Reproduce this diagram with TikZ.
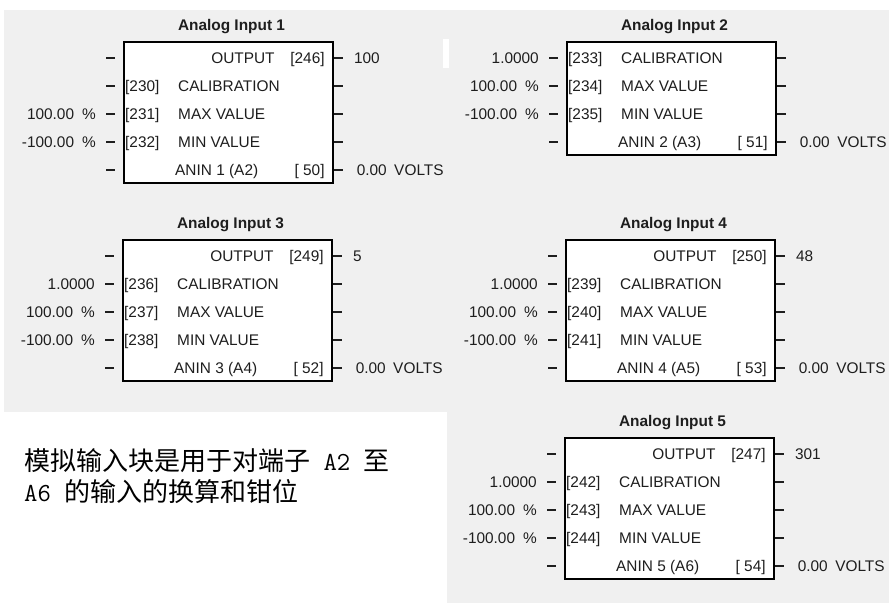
\documentclass[tikz,border=0pt]{standalone}
\usepackage{fontspec}
\setmainfont{Liberation Sans}
\newfontfamily\cjkfont{Noto Sans CJK SC}
\definecolor{bggray}{HTML}{F0F0F0}
\definecolor{txt}{HTML}{1E1E1E}
\tikzset{
  blockbox/.style={draw=black, line width=1.8pt, fill=white, minimum width=209pt, inner sep=0pt, anchor=north west},
  lbl/.style={inner sep=0pt, text=txt, font=\fontsize{15.4}{18}\selectfont},
  ttl/.style={inner sep=0pt, text=txt, font=\fontsize{15.4}{18}\selectfont\bfseries},
  tick/.style={line width=1.6pt, draw=txt},
  note/.style={inner sep=0pt, text=black, anchor=base west},
}
\newcommand\pct[1]{#1\hspace{8pt}\%}
\newcommand\volts{0.00\hspace{7.5pt}VOLTS}
\newcommand\latm[1]{{\ttfamily\fontsize{26}{30}\selectfont #1}}
% block: name, x, y, height, title
\newcommand\ablock[5]{%
  \node[blockbox, minimum height=#4pt] (#1) at (#2,#3) {};
  \node[ttl, anchor=base] (#1title) at ([shift={(108.5,-10.5)}]#1.north west) {#5};
}
% left dash + right tick for row i
\newcommand\rowticks[2]{%
  \coordinate (#1la#2) at ([shift={(-17,17+28*#2)}]#1.north west);
  \coordinate (#1lb#2) at ([shift={(-8,17+28*#2)}]#1.north west);
  \coordinate (#1ra#2) at ([shift={(0,17+28*#2)}]#1.north east);
  \coordinate (#1rb#2) at ([shift={(9,17+28*#2)}]#1.north east);
  \draw[tick] (#1la#2) -- (#1lb#2);
  \draw[tick] (#1ra#2) -- (#1rb#2);
}
% input row: box, i, value, param, name
\newcommand\inrow[5]{%
  \rowticks{#1}{#2}
  \node[lbl, anchor=base east] (#1v#2) at ([shift={(-27,22.5+28*#2)}]#1.north west) {#3};
  \node[lbl, anchor=base west] (#1p#2) at ([shift={(2,22.5+28*#2)}]#1.north west) {#4};
  \node[lbl, anchor=base west] (#1n#2) at ([shift={(55,22.5+28*#2)}]#1.north west) {#5};
}
% output row: box, param, value
\newcommand\outrow[3]{%
  \rowticks{#1}{0}
  \node[lbl, anchor=base east] (#1n0) at ([shift={(-59,22.5)}]#1.north east) {OUTPUT};
  \node[lbl, anchor=base east] (#1p0) at ([shift={(-9,22.5)}]#1.north east) {#2};
  \node[lbl, anchor=base west] (#1v0) at ([shift={(20,22.5)}]#1.north east) {#3};
}
% anin row: box, i, name, param
\newcommand\aninrow[4]{%
  \rowticks{#1}{#2}
  \node[lbl, anchor=base west] (#1n#2) at ([shift={(52,22.5+28*#2)}]#1.north west) {#3};
  \node[lbl, anchor=base east] (#1p#2) at ([shift={(-9,22.5+28*#2)}]#1.north east) {#4};
  \node[lbl, anchor=base east] (#1v#2) at ([shift={(110,22.5+28*#2)}]#1.north east) {\volts};
}
\begin{document}
\begin{tikzpicture}[x=1pt,y=-1pt]
\useasboundingbox (0,0) rectangle (889,603);
\fill[white] (0,0) rectangle (889,603);
\fill[bggray] (4,10) rectangle (889,603);
\fill[white] (0,412) rectangle (447,603);
\fill[white] (443,39) rectangle (449,68);

% Analog Input 1
\ablock{ai1}{123}{41}{141}{Analog Input 1}
\outrow{ai1}{[246]}{100}
\inrow{ai1}{1}{}{[230]}{CALIBRATION}
\inrow{ai1}{2}{\pct{100.00}}{[231]}{MAX VALUE}
\inrow{ai1}{3}{\pct{-100.00}}{[232]}{MIN VALUE}
\aninrow{ai1}{4}{ANIN 1 (A2)}{[ 50]}

% Analog Input 2
\ablock{ai2}{566}{41}{113}{Analog Input 2}
\inrow{ai2}{0}{1.0000}{[233]}{CALIBRATION}
\inrow{ai2}{1}{\pct{100.00}}{[234]}{MAX VALUE}
\inrow{ai2}{2}{\pct{-100.00}}{[235]}{MIN VALUE}
\aninrow{ai2}{3}{ANIN 2 (A3)}{[ 51]}

% Analog Input 3
\ablock{ai3}{122}{239}{141}{Analog Input 3}
\outrow{ai3}{[249]}{5}
\inrow{ai3}{1}{1.0000}{[236]}{CALIBRATION}
\inrow{ai3}{2}{\pct{100.00}}{[237]}{MAX VALUE}
\inrow{ai3}{3}{\pct{-100.00}}{[238]}{MIN VALUE}
\aninrow{ai3}{4}{ANIN 3 (A4)}{[ 52]}

% Analog Input 4
\ablock{ai4}{565}{239}{141}{Analog Input 4}
\outrow{ai4}{[250]}{48}
\inrow{ai4}{1}{1.0000}{[239]}{CALIBRATION}
\inrow{ai4}{2}{\pct{100.00}}{[240]}{MAX VALUE}
\inrow{ai4}{3}{\pct{-100.00}}{[241]}{MIN VALUE}
\aninrow{ai4}{4}{ANIN 4 (A5)}{[ 53]}

% Analog Input 5
\ablock{ai5}{564}{437}{141}{Analog Input 5}
\outrow{ai5}{[247]}{301}
\inrow{ai5}{1}{1.0000}{[242]}{CALIBRATION}
\inrow{ai5}{2}{\pct{100.00}}{[243]}{MAX VALUE}
\inrow{ai5}{3}{\pct{-100.00}}{[244]}{MIN VALUE}
\aninrow{ai5}{4}{ANIN 5 (A6)}{[ 54]}

% note
\node[note] (noteA) at (24,470) {\fontsize{26}{30}\selectfont\cjkfont 模拟输入块是用于对端子\latm{\ A2\ }至};
\node[note] (noteB) at (24,501) {\fontsize{26}{30}\selectfont\latm{A6\ }\cjkfont 的输入的换算和钳位};
\end{tikzpicture}
\end{document}
